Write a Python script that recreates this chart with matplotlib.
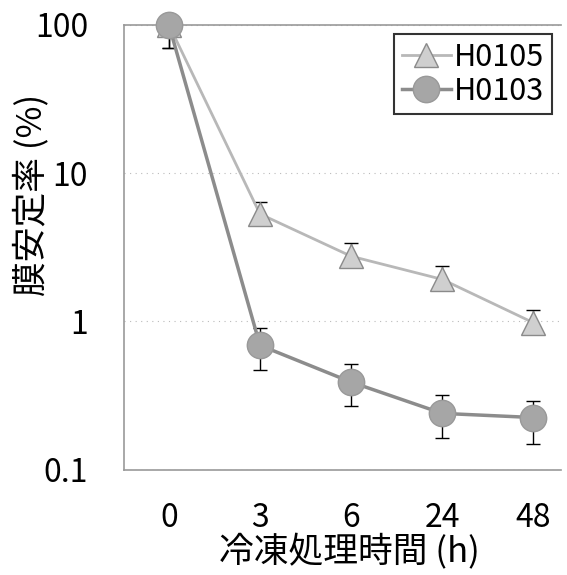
import numpy as np
import matplotlib
matplotlib.use("Agg")
import matplotlib.pyplot as plt

plt.rcParams['font.family'] = ['Noto Sans CJK JP', 'DejaVu Sans']

# data
times = ["0", "3", "6", "24", "48"]
h0105 = [100, 5.3, 2.75, 1.92, 0.98]
h0105_lo = [70, 4.5, 2.4, 1.64, 0.83]
h0105_hi = [100, 6.4, 3.4, 2.35, 1.19]
h0103 = [100, 0.69, 0.39, 0.24, 0.225]
h0103_lo = [70, 0.47, 0.27, 0.165, 0.15]
h0103_hi = [100, 0.91, 0.52, 0.32, 0.29]

x = np.arange(len(times))

fig = plt.figure(figsize=(5.67, 5.75), dpi=100)
ax = fig.add_axes([0.219, 0.183, 0.77, 0.774])
ax.set_yscale("log")
ax.set_ylim(0.1, 100)
ax.set_xlim(-0.49, 4.3)


def yerr(v, lo, hi):
    return [np.array(v) - np.array(lo), np.array(hi) - np.array(v)]


ax.errorbar(x, h0105, yerr=yerr(h0105, h0105_lo, h0105_hi), fmt="none",
            ecolor="black", elinewidth=1, capsize=5, zorder=2)
ax.errorbar(x, h0103, yerr=yerr(h0103, h0103_lo, h0103_hi), fmt="none",
            ecolor="black", elinewidth=1, capsize=5, zorder=2)
ax.plot(x, h0105, color="#b8b8b8", lw=2, marker="^", ms=17,
        mfc="#cfcfcf", mec="#8a8a8a", mew=1, label="H0105", zorder=3, clip_on=False)
ax.plot(x, h0103, color="#8c8c8c", lw=2.5, marker="o", ms=19,
        mfc="#a6a6a6", mec="#999999", mew=1, label="H0103", zorder=4, clip_on=False)

ax.set_xticks(x)
ax.set_xticklabels(times)
ax.set_yticks([0.1, 1, 10, 100])
ax.set_yticklabels(["0.1", "1", "10", "100"])
ax.minorticks_off()
ax.tick_params(length=0, labelsize=23, pad=23)
ax.tick_params(axis="y", pad=26)
ax.grid(axis="y", color="#bbbbbb", ls=(0, (1, 4)), lw=0.8)

for s in ["left", "bottom", "top"]:
    ax.spines[s].set_color("#999999")
    ax.spines[s].set_linewidth(1.2)
ax.spines["right"].set_visible(False)

ax.set_xlabel("冷凍処理時間 (h)", fontsize=25)
ax.set_ylabel("膜安定率 (%)", fontsize=25)
ax.xaxis.set_label_coords(0.515, -0.145)
ax.yaxis.set_label_coords(-0.172, 0.618)

leg = ax.legend(loc="upper right", bbox_to_anchor=(1.0, 1.0), fontsize=22,
                frameon=True, fancybox=False, edgecolor="black",
                handlelength=1.6, handletextpad=0.1, borderpad=0.25,
                labelspacing=0.1, borderaxespad=0.3)
leg.get_frame().set_linewidth(1.5)

fig.savefig("out.png", dpi=100)
